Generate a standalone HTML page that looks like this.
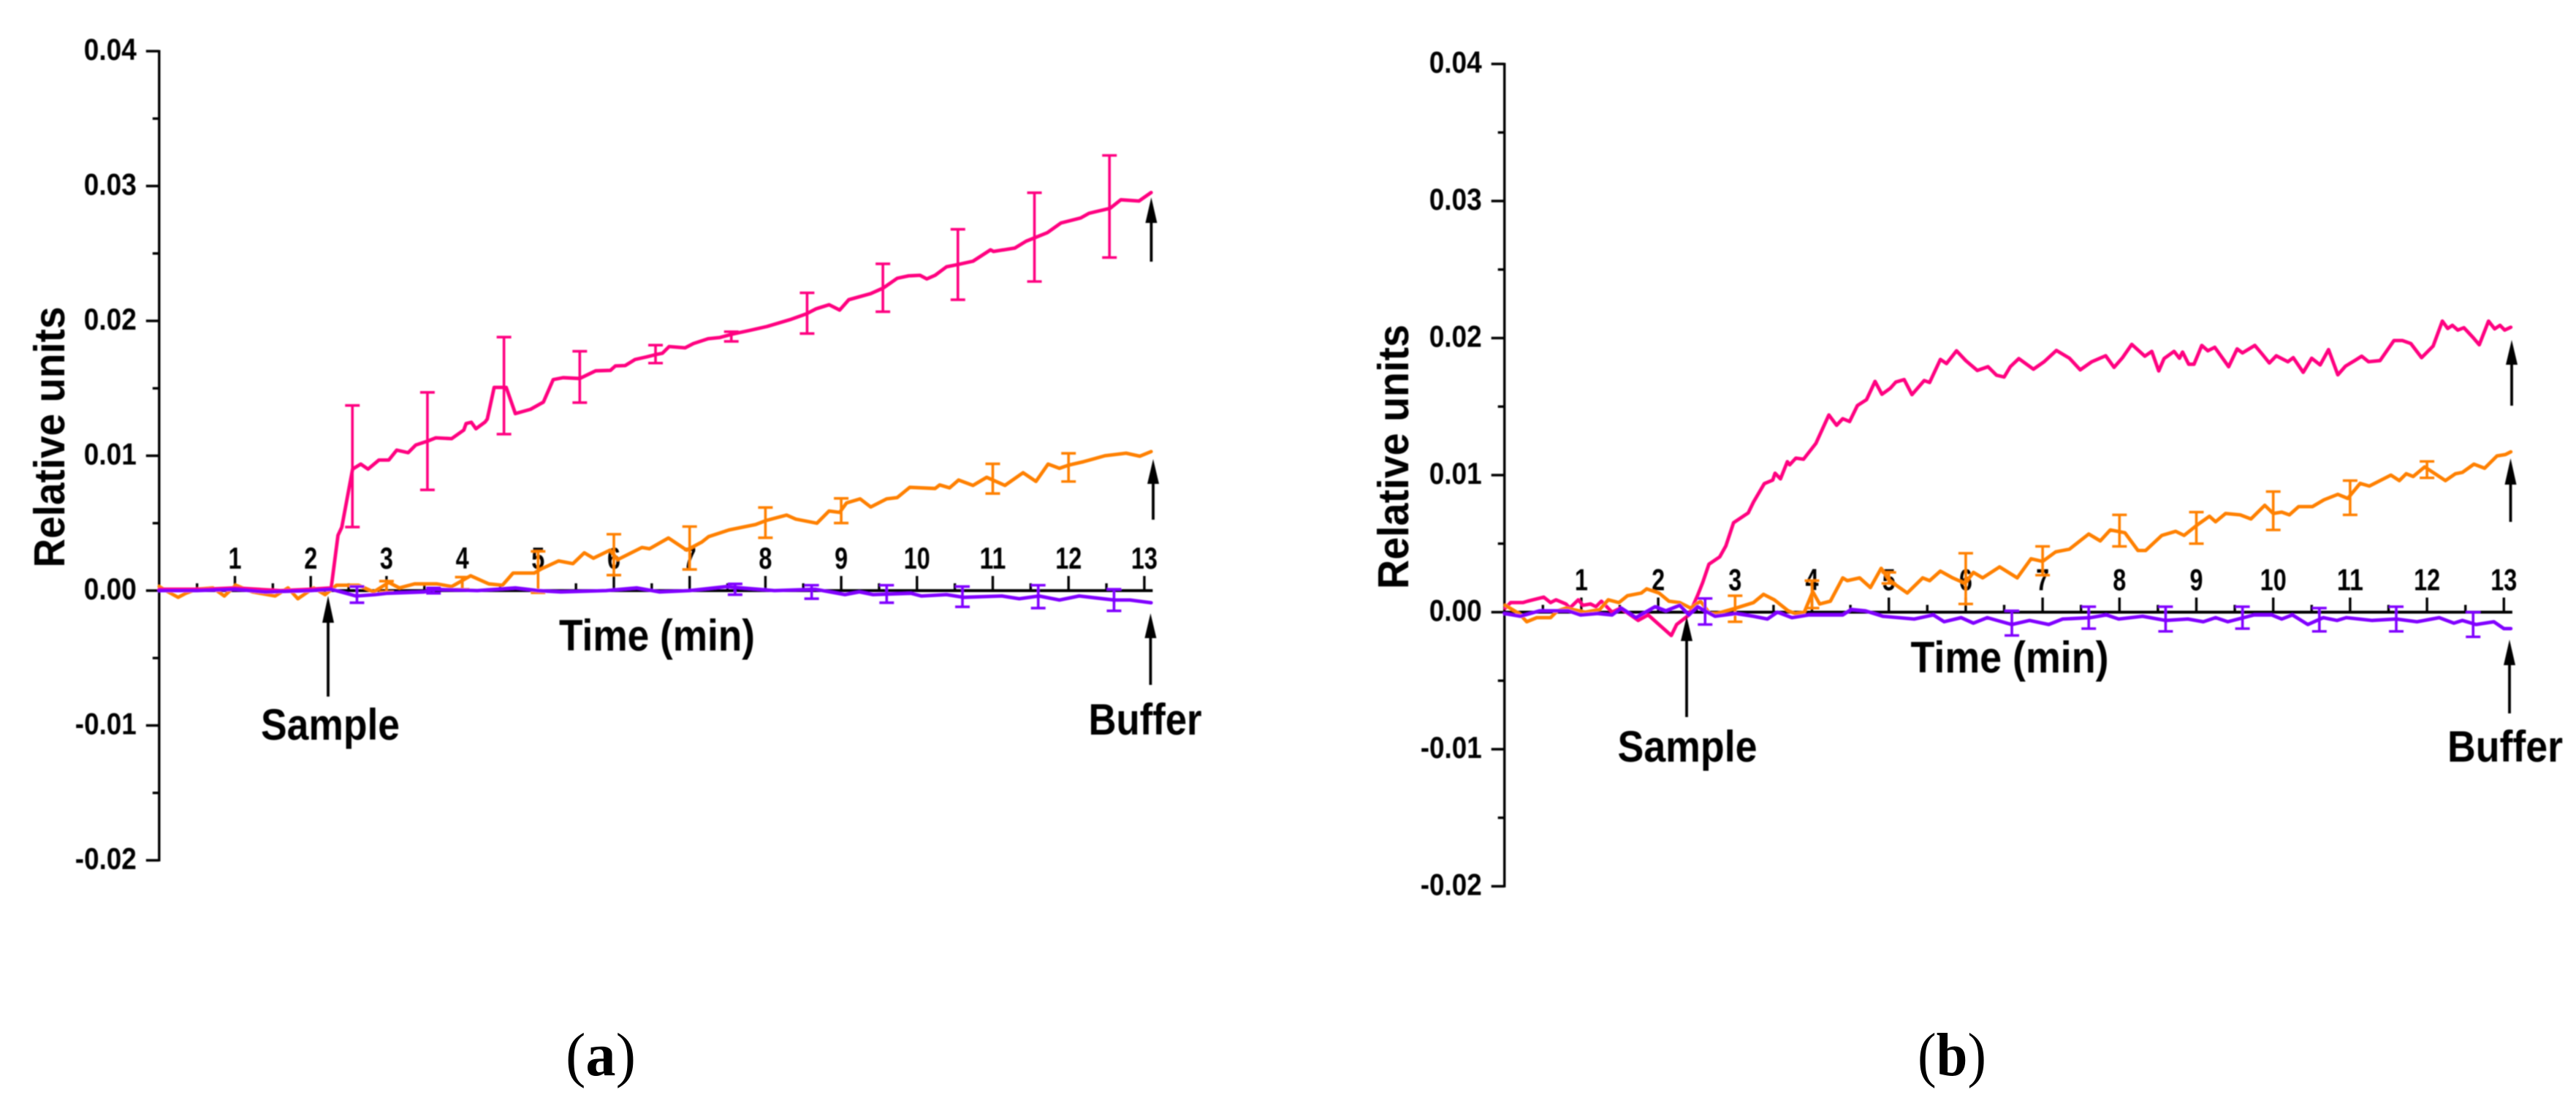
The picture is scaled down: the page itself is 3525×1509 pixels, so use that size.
<!DOCTYPE html>
<html lang="en">
<head>
<meta charset="utf-8">
<title>Relative units over time, panels a and b</title>
<style>
html,body{margin:0;padding:0;background:#fff;}
body{width:3525px;height:1509px;overflow:hidden;}
svg{display:block;}
text{font-family:"Liberation Sans",sans-serif;font-weight:700;fill:#000;}
.cap{font-family:"Liberation Serif",serif;font-weight:400;font-size:84px;}
.capb{font-weight:700;}
</style>
</head>
<body>
<svg id="figure" xmlns="http://www.w3.org/2000/svg" width="3525" height="1509" viewBox="0 0 3525 1509">
  <defs><filter id="soft" x="-2%" y="-2%" width="104%" height="104%"><feGaussianBlur stdDeviation="0.7"/></filter></defs>
  <rect width="3525" height="1509" fill="#fff"/>
  <g id="panel-a" filter="url(#soft)">
    <g id="panel-a-marks"></g>
    <text transform="translate(88,598) rotate(-90)" font-size="59" text-anchor="middle" textLength="357" lengthAdjust="spacingAndGlyphs">Relative units</text>
    <text x="899" y="890" font-size="60" text-anchor="middle" textLength="268" lengthAdjust="spacingAndGlyphs">Time (min)</text>
    <text x="452" y="1012" font-size="60" text-anchor="middle" textLength="190" lengthAdjust="spacingAndGlyphs">Sample</text>
    <text x="1567" y="1005" font-size="60" text-anchor="middle" textLength="155" lengthAdjust="spacingAndGlyphs">Buffer</text>
  </g>
  <text class="cap" x="822" y="1471" text-anchor="middle" textLength="96" lengthAdjust="spacingAndGlyphs">(<tspan class="capb">a</tspan>)</text>
  <g id="panel-b" filter="url(#soft)">
    <g id="panel-b-marks"></g>
    <text transform="translate(1927,625) rotate(-90)" font-size="59" text-anchor="middle" textLength="362" lengthAdjust="spacingAndGlyphs">Relative units</text>
    <text x="2750" y="920" font-size="60" text-anchor="middle" textLength="271" lengthAdjust="spacingAndGlyphs">Time (min)</text>
    <text x="2309" y="1042" font-size="60" text-anchor="middle" textLength="191" lengthAdjust="spacingAndGlyphs">Sample</text>
    <text x="3428" y="1042" font-size="60" text-anchor="middle" textLength="158" lengthAdjust="spacingAndGlyphs">Buffer</text>
  </g>
  <text class="cap" x="2671" y="1471" text-anchor="middle" textLength="94" lengthAdjust="spacingAndGlyphs">(<tspan class="capb">b</tspan>)</text>
</svg>
<script>
// Axis tick labels
const xTickLabels = ["1","2","3","4","5","6","7","8","9","10","11","12","13"];
const xMinorTicks = [0.5,1.5,2.5,3.5,4.5,5.5,6.5,7.5,8.5,9.5,10.5,11.5,12.5];
const yTickLabels = ["0.04","0.03","0.02","0.01","0.00","-0.01","-0.02"];
const yMinorTicks = [0.035,0.025,0.015,0.005,-0.005,-0.015];

// Panel (a) pink series
const aPinkT = [0,0.3,0.6,1,1.3,1.6,2,2.27,2.36,2.41,2.553,2.66,2.756,2.9,3.03,3.135,3.285,3.385,3.545,3.65,3.86,4.02,4.05,4.12,4.18,4.3,4.33,4.42,4.58,4.7,4.9,5.07,5.2,5.33,5.55,5.76,5.955,6.02,6.15,6.28,6.43,6.56,6.64,6.73,6.94,7.05,7.245,7.4,7.55,7.78,8.02,8.34,8.54,8.67,8.84,8.98,9.1,9.39,9.555,9.74,9.89,10.04,10.13,10.24,10.39,10.55,10.74,10.97,11.01,11.29,11.44,11.56,11.72,11.9,12.16,12.27,12.55,12.69,12.93,13.09];
const aPinkV = [0.0001,0.0001,0.0001,0.0002,0.0001,0,0.0001,0.0002,0.0041,0.0047,0.00901,0.00938,0.00901,0.00968,0.00968,0.01042,0.01023,0.01079,0.01109,0.01133,0.01127,0.01191,0.01239,0.01248,0.012,0.0125,0.01272,0.01507,0.01507,0.01313,0.01344,0.01398,0.01565,0.01579,0.01573,0.0163,0.01633,0.01666,0.01669,0.01714,0.01733,0.01751,0.0176,0.0181,0.018,0.01832,0.01868,0.01877,0.019,0.01928,0.01958,0.02012,0.02052,0.0209,0.0212,0.0208,0.02157,0.02202,0.02244,0.02316,0.02334,0.02338,0.02311,0.02338,0.02401,0.02419,0.02443,0.02527,0.02515,0.0254,0.02591,0.02618,0.02654,0.02726,0.02763,0.02798,0.02835,0.02898,0.02889,0.02952];
const aPinkErrT = [2.55,3.54,4.55,5.55,6.55,7.55,8.55,9.55,10.54,11.55,12.54];
const aPinkErrHi = [0.01373,0.0147,0.0188,0.01775,0.0182,0.0192,0.02208,0.02423,0.02679,0.0295,0.03227];
const aPinkErrLo = [0.00471,0.00747,0.0116,0.01394,0.01687,0.01848,0.01906,0.02068,0.02157,0.02292,0.0247];

// Panel (a) orange series
const aOrangeT = [0,0.12,0.25,0.35,0.49,0.71,0.86,1.01,1.23,1.53,1.7,1.83,2.04,2.19,2.34,2.63,2.83,3.03,3.17,3.37,3.66,3.86,4.11,4.35,4.53,4.67,4.95,5.04,5.27,5.46,5.61,5.73,5.95,6.05,6.37,6.47,6.72,6.96,7.16,7.25,7.52,7.87,8.01,8.28,8.4,8.68,8.84,8.98,9.07,9.25,9.39,9.6,9.74,9.905,10.24,10.3,10.43,10.55,10.74,10.92,11.16,11.4,11.57,11.73,11.88,12,12.2,12.48,12.76,12.94,13.09];
const aOrangeV = [0.0003,-0.0001,-0.0005,-0.0002,0.0001,0.0002,-0.0004,0.0004,-0.0001,-0.0004,0.0002,-0.0006,0.0002,-0.0003,0.0004,0.0004,-0.0001,0.0006,0.0002,0.0005,0.0005,0.0003,0.0011,0.0005,0.0004,0.0013,0.0013,0.0016,0.0022,0.002,0.0028,0.0024,0.003,0.0023,0.0032,0.0031,0.0039,0.003,0.0036,0.004,0.0045,0.0049,0.0052,0.0056,0.0053,0.005,0.0059,0.0058,0.0065,0.0068,0.0062,0.0068,0.0069,0.00766,0.00757,0.00784,0.00762,0.0082,0.0078,0.0084,0.0078,0.00874,0.0081,0.00938,0.00907,0.0093,0.00956,0.01,0.01019,0.00997,0.01031];
const aOrangeErrT = [3,4,5,6,7,8,9,11,12];
const aOrangeErrHi = [0.0007,0.001,0.00291,0.00418,0.00475,0.00616,0.00684,0.0094,0.01018];
const aOrangeErrLo = [-0.0001,0.0001,-0.00016,0.00115,0.00157,0.00392,0.00501,0.0072,0.00809];

// Panel (a) purple series
const aPurpleT = [0,0.5,1,1.4,2,2.27,2.4,2.6,2.85,3,3.5,3.62,4.2,4.7,5,5.3,5.9,6.3,6.6,7,7.48,8.12,8.66,9.05,9.24,9.42,9.92,10.06,10.39,10.62,11.12,11.35,11.61,11.88,12.14,12.6,12.81,13.09];
const aPurpleV = [0,0,0.0001,-0.0001,0,0.0001,-0.0001,-0.0004,-0.0003,-0.0002,-0.0001,0.0001,0,0.0002,0,-0.0001,0,0.0002,-0.0001,0,0.0003,0,0.0001,-0.0003,-0.0001,-0.0003,-0.0002,-0.0004,-0.0003,-0.0005,-0.0004,-0.0006,-0.0004,-0.0007,-0.0004,-0.0007,-0.0007,-0.0009];
const aPurpleErrT = [2.61,3.62,7.6,8.61,9.6,10.6,11.6,12.6];
const aPurpleErrHi = [0.0003,0.0002,0.0005,0.0004,0.0004,0.0003,0.0004,0.0001];
const aPurpleErrLo = [-0.0009,-0.0002,-0.0003,-0.0006,-0.0009,-0.0012,-0.0013,-0.0015];

// Panel (b) pink series
const bPinkT = [0.01,0.08,0.24,0.3,0.51,0.6,0.67,0.8,0.85,0.96,1.02,1.12,1.19,1.26,1.4,1.51,1.74,1.87,2.17,2.24,2.4,2.51,2.58,2.66,2.8,2.88,2.98,3.17,3.24,3.38,3.49,3.52,3.59,3.68,3.71,3.79,3.89,4.05,4.22,4.32,4.4,4.49,4.59,4.71,4.82,4.91,5.02,5.09,5.2,5.3,5.46,5.53,5.67,5.75,5.88,6,6.15,6.29,6.4,6.5,6.58,6.69,6.88,7.02,7.18,7.35,7.49,7.64,7.82,7.93,8.04,8.16,8.33,8.42,8.51,8.58,8.71,8.78,8.82,8.9,8.97,9.07,9.15,9.24,9.42,9.53,9.6,9.76,9.86,9.95,10.04,10.19,10.26,10.39,10.5,10.61,10.72,10.84,10.94,11.06,11.15,11.24,11.39,11.57,11.68,11.79,11.93,12.08,12.2,12.27,12.33,12.4,12.48,12.6,12.68,12.8,12.88,12.95,13.01,13.09];
const bPinkV = [0.0003,0.0007,0.0007,0.0008,0.0011,0.0007,0.0009,0.0006,0.0003,0.0009,0.0005,0.0006,0.0004,0.0008,0,0.0003,-0.0006,-0.0002,-0.0017,-0.0009,-0.0002,0.0012,0.00218,0.0035,0.00404,0.00484,0.00653,0.00724,0.00804,0.00938,0.00964,0.01014,0.00973,0.01098,0.01075,0.01124,0.01116,0.01231,0.01439,0.01364,0.01412,0.01391,0.01507,0.01551,0.01684,0.0159,0.01634,0.01679,0.01697,0.01587,0.0169,0.01676,0.01844,0.01814,0.01907,0.01836,0.01764,0.01791,0.01729,0.01716,0.01791,0.0185,0.01773,0.01827,0.0191,0.01853,0.01768,0.01827,0.01871,0.01786,0.01857,0.01954,0.01868,0.01903,0.0176,0.0185,0.01903,0.01853,0.01898,0.01809,0.01809,0.01946,0.01907,0.01933,0.01791,0.01921,0.01892,0.01946,0.0188,0.01818,0.01871,0.01827,0.01857,0.0175,0.01853,0.01804,0.01916,0.01732,0.01795,0.01836,0.01868,0.01827,0.01836,0.01982,0.01982,0.0196,0.01857,0.01942,0.02124,0.0207,0.02093,0.02058,0.02076,0.02004,0.01951,0.02124,0.02067,0.02093,0.02058,0.02079];

// Panel (b) orange series
const bOrangeT = [0.01,0.19,0.29,0.42,0.6,0.69,0.8,1.05,1.24,1.35,1.49,1.6,1.78,1.85,2.01,2.14,2.28,2.42,2.55,2.67,2.76,3.01,3.24,3.37,3.51,3.69,3.78,3.9,4.01,4.1,4.24,4.4,4.46,4.62,4.76,4.9,5.01,5.24,5.44,5.53,5.67,5.83,5.99,6.1,6.22,6.44,6.67,6.85,7,7.17,7.35,7.6,7.75,7.88,8.07,8.24,8.34,8.55,8.73,8.84,9.02,9.17,9.25,9.38,9.57,9.71,9.89,10,10.11,10.21,10.33,10.51,10.66,10.84,10.97,11.13,11.25,11.53,11.64,11.73,11.82,11.97,12.24,12.37,12.46,12.61,12.75,12.91,13.02,13.09];
const bOrangeV = [0.0005,-0.0001,-0.0007,-0.0004,-0.0004,0.0001,0.0003,0,0.0002,0.0009,0.0007,0.0012,0.0014,0.0017,0.0014,0.0008,0.0007,0.0003,0.0008,-0.0001,-0.0001,0.0003,0.0007,0.0013,0.0009,0.0001,-0.0001,0,0.0015,0.0006,0.0008,0.0025,0.0023,0.0025,0.0018,0.0032,0.0023,0.0014,0.0025,0.0023,0.003,0.0025,0.0021,0.0029,0.0025,0.0033,0.0025,0.0039,0.0037,0.0044,0.0046,0.0057,0.0052,0.006,0.0058,0.0045,0.0045,0.0056,0.0059,0.0056,0.0064,0.007,0.0066,0.0072,0.0071,0.0068,0.0078,0.0072,0.0073,0.0071,0.0077,0.0077,0.0082,0.0086,0.0083,0.0094,0.0092,0.01,0.0096,0.0101,0.0099,0.0106,0.0096,0.0101,0.0102,0.0108,0.0105,0.0114,0.0115,0.0117];
const bOrangeErrT = [3,4,5,6,7,8,9,10,11,12];
const bOrangeErrHi = [0.0012,0.0023,0.0029,0.0043,0.0048,0.0071,0.0073,0.0088,0.0096,0.011];
const bOrangeErrLo = [-0.0007,0.0003,0.0021,0.0006,0.0027,0.0048,0.005,0.006,0.0071,0.0098];

// Panel (b) purple series
const bPurpleT = [0,0.21,0.46,0.83,0.99,1.21,1.4,1.52,1.71,1.96,2.1,2.28,2.4,2.51,2.74,3.01,3.24,3.42,3.55,3.74,3.96,4.4,4.51,4.69,4.92,5.33,5.58,5.72,5.94,6.1,6.28,6.6,6.83,7.08,7.26,7.62,7.83,7.99,8.3,8.6,8.89,9.09,9.25,9.41,9.75,9.98,10.11,10.25,10.45,10.65,10.83,10.95,11.28,11.6,11.87,12.16,12.35,12.46,12.64,12.87,13,13.09];
const bPurpleV = [-0.0001,-0.0003,0.0001,0.0001,-0.0002,-0.0001,-0.0002,0.0003,-0.0004,0.0004,0.0001,0.0005,-0.0002,0.0004,-0.0003,-0.0001,-0.0003,-0.0005,0,-0.0004,-0.0002,-0.0002,0.0002,0.0001,-0.0003,-0.0005,-0.0002,-0.0007,-0.0004,-0.0008,-0.0004,-0.0009,-0.0006,-0.0009,-0.0005,-0.0004,-0.0002,-0.0005,-0.0003,-0.0006,-0.0005,-0.0007,-0.0004,-0.0007,-0.0002,-0.0002,-0.0005,-0.0002,-0.0009,-0.0004,-0.0006,-0.0004,-0.0006,-0.0005,-0.0007,-0.0004,-0.0008,-0.0006,-0.0009,-0.0007,-0.0012,-0.0012];
const bPurpleErrT = [2.61,6.6,7.6,8.6,9.6,10.6,11.6,12.6];
const bPurpleErrHi = [0.001,0.0001,0.0004,0.0004,0.0004,0.0003,0.0004,0];
const bPurpleErrLo = [-0.0009,-0.0017,-0.0012,-0.0014,-0.0012,-0.0014,-0.0014,-0.0018];

const SVG_NS = 'http://www.w3.org/2000/svg';
const PINK = '#ff0080', ORANGE = '#ff8000', PURPLE = '#8000ff';

function make(parent, tag, attrs, name) {
  const el = document.createElementNS(SVG_NS, tag);
  for (const k in attrs) el.setAttribute(k, attrs[k]);
  
  
  parent.appendChild(el);
  return el;
}

function drawAxes(g, p, id) {
  const X = t => p.x0 + t * p.pxPerMin;
  const Y = v => p.y0 - v * p.pxPerUnit;
  const stroke = { stroke: '#000', 'stroke-width': 3.4 };
  make(g, 'line', { x1: X(0), y1: Y(0.04) - 1.5, x2: X(0), y2: Y(-0.02) + 1.5, ...stroke }, id + '-y-axis-line');
  make(g, 'line', { x1: X(0), y1: Y(0), x2: X(13.11), y2: Y(0), stroke: '#000', 'stroke-width': 4 }, id + '-x-axis-line');
  yTickLabels.forEach(label => {
    const v = parseFloat(label);
    make(g, 'line', { x1: X(0) - 18, y1: Y(v), x2: X(0), y2: Y(v), ...stroke }, id + '-y-tick');
    const txt = make(g, 'text', { x: X(0) - 31, y: Y(v) + 12, 'font-size': 42, 'text-anchor': 'end', textLength: label.length * 18 - (label.charAt(0) === '-' ? 6 : 0), lengthAdjust: 'spacingAndGlyphs' }, id + '-y-tick-label');
    txt.textContent = label;
  });
  yMinorTicks.forEach(v => {
    make(g, 'line', { x1: X(0) - 9, y1: Y(v), x2: X(0), y2: Y(v), ...stroke }, id + '-y-minor-tick');
  });
  xTickLabels.forEach(label => {
    const t = parseFloat(label);
    make(g, 'line', { x1: X(t), y1: Y(0) - 20, x2: X(t), y2: Y(0), ...stroke }, id + '-x-tick');
    const txt = make(g, 'text', { x: X(t), y: Y(0) - 30, 'font-size': 42, 'text-anchor': 'middle', textLength: label.length * 18, lengthAdjust: 'spacingAndGlyphs' }, id + '-x-tick-label');
    txt.textContent = label;
  });
  xMinorTicks.forEach(t => {
    make(g, 'line', { x1: X(t), y1: Y(0) - 10, x2: X(t), y2: Y(0), ...stroke }, id + '-x-minor-tick');
  });
}

function drawLine(g, p, times, values, color, name) {
  const pts = times.map((t, i) => (p.x0 + t * p.pxPerMin).toFixed(1) + ',' + (p.y0 - values[i] * p.pxPerUnit).toFixed(1)).join(' ');
  make(g, 'polyline', { points: pts, fill: 'none', stroke: color, 'stroke-width': 4.8, 'stroke-linejoin': 'round', 'stroke-linecap': 'round' }, name);
}

function drawErrors(g, p, times, hi, lo, color, name) {
  times.forEach((t, i) => {
    const x = p.x0 + t * p.pxPerMin;
    const yHi = p.y0 - hi[i] * p.pxPerUnit;
    const yLo = p.y0 - lo[i] * p.pxPerUnit;
    const s = { stroke: color, 'stroke-width': 3.6 };
    make(g, 'line', { x1: x, y1: yHi, x2: x, y2: yLo, ...s }, name + '-stem');
    make(g, 'line', { x1: x - 10, y1: yHi, x2: x + 10, y2: yHi, ...s }, name + '-cap-top');
    make(g, 'line', { x1: x - 10, y1: yLo, x2: x + 10, y2: yLo, ...s }, name + '-cap-bottom');
  });
}

function drawArrow(g, x, top, base, bottom, name) {
  make(g, 'line', { x1: x, y1: base - 2, x2: x, y2: bottom, stroke: '#000', 'stroke-width': 3.8 }, name + '-shaft');
  make(g, 'polygon', { points: x + ',' + top + ' ' + (x - 8) + ',' + base + ' ' + (x + 8) + ',' + base, fill: '#000' }, name + '-head');
}

const panelA = { x0: 217.8, pxPerMin: 103.7, y0: 808, pxPerUnit: 18450 };
const panelB = { x0: 2058.7, pxPerMin: 105.2, y0: 837.5, pxPerUnit: 18750 };

const gA = document.getElementById('panel-a-marks');
drawAxes(gA, panelA, 'panel-a');
drawErrors(gA, panelA, aOrangeErrT, aOrangeErrHi, aOrangeErrLo, ORANGE, 'panel-a-orange-error-bar');
drawLine(gA, panelA, aOrangeT, aOrangeV, ORANGE, 'panel-a-orange-series');
drawErrors(gA, panelA, aPinkErrT, aPinkErrHi, aPinkErrLo, PINK, 'panel-a-pink-error-bar');
drawLine(gA, panelA, aPinkT, aPinkV, PINK, 'panel-a-pink-series');
drawErrors(gA, panelA, aPurpleErrT, aPurpleErrHi, aPurpleErrLo, PURPLE, 'panel-a-purple-error-bar');
drawLine(gA, panelA, aPurpleT, aPurpleV, PURPLE, 'panel-a-purple-series');
drawArrow(gA, 449, 815, 852, 953, 'panel-a-sample-arrow');
drawArrow(gA, 1575.4, 270, 305, 358, 'panel-a-pink-end-arrow');
drawArrow(gA, 1578, 628, 662, 711, 'panel-a-orange-end-arrow');
drawArrow(gA, 1574.4, 839, 873, 937, 'panel-a-buffer-arrow');

const gB = document.getElementById('panel-b-marks');
drawAxes(gB, panelB, 'panel-b');
drawLine(gB, panelB, bPinkT, bPinkV, PINK, 'panel-b-pink-series');
drawErrors(gB, panelB, bOrangeErrT, bOrangeErrHi, bOrangeErrLo, ORANGE, 'panel-b-orange-error-bar');
drawLine(gB, panelB, bOrangeT, bOrangeV, ORANGE, 'panel-b-orange-series');
drawErrors(gB, panelB, bPurpleErrT, bPurpleErrHi, bPurpleErrLo, PURPLE, 'panel-b-purple-error-bar');
drawLine(gB, panelB, bPurpleT, bPurpleV, PURPLE, 'panel-b-purple-series');
drawArrow(gB, 2308, 843, 877, 981, 'panel-b-sample-arrow');
drawArrow(gB, 3437, 465, 499, 555, 'panel-b-pink-end-arrow');
drawArrow(gB, 3435.5, 627, 663, 714, 'panel-b-orange-end-arrow');
drawArrow(gB, 3434, 875, 910, 976, 'panel-b-buffer-arrow');
</script>
</body>
</html>
